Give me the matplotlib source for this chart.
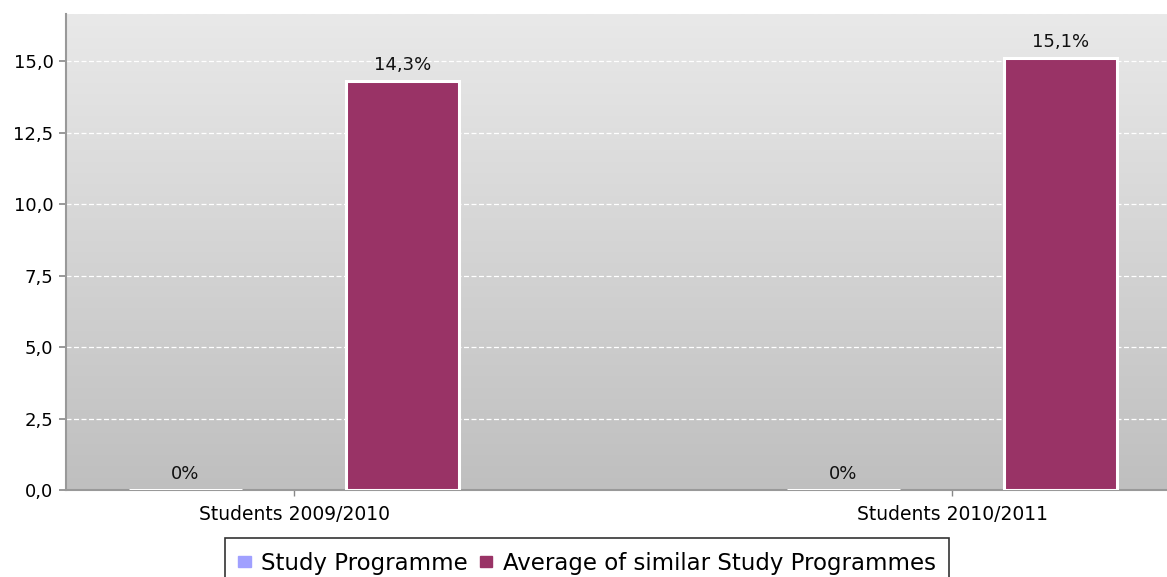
import matplotlib
matplotlib.use("Agg")
import matplotlib.pyplot as plt
import numpy as np

# Data
categories = ["Students 2009/2010", "Students 2010/2011"]
series_names = ["Study Programme", "Average of similar Study Programmes"]
study_programme = [0.0, 0.0]
average_similar = [14.3, 15.1]
series_colors = ["#a0a0ff", "#993366"]
y_ticks = [0.0, 2.5, 5.0, 7.5, 10.0, 12.5, 15.0]


def pct_label(v):
    if v == 0:
        return "0%"
    return f"{v:.1f}%".replace(".", ",")


plt.rcParams["font.family"] = ["DejaVu Sans"]

fig = plt.figure(figsize=(11.67, 5.77), dpi=100)
ax = fig.add_axes([66 / 1167, 87 / 577, 1101 / 1167, 476 / 577])

x = np.arange(len(categories))
xlim = (-0.3465, 1.3267)
ylim = (0, 16.65)

# vertical gradient background
grad = np.linspace(0, 1, 256).reshape(-1, 1)
ax.imshow(grad, extent=[xlim[0], xlim[1], ylim[0], ylim[1]], aspect="auto",
          cmap=matplotlib.colors.LinearSegmentedColormap.from_list("bg", ["#bfbfbf", "#e9e9e9"]),
          origin="lower", zorder=0)

for t in y_ticks:
    ax.axhline(t, color="white", lw=0.9, ls=(0, (4, 2)), zorder=1)

offset = 0.165
width = 0.172
bars1 = ax.bar(x - offset, study_programme, width, color=series_colors[0],
               edgecolor="white", linewidth=2.2, zorder=3)
bars2 = ax.bar(x + offset, average_similar, width, color=series_colors[1],
               edgecolor="white", linewidth=2.2, zorder=3)

for bars, vals in ((bars1, study_programme), (bars2, average_similar)):
    for b, v in zip(bars, vals):
        ax.text(b.get_x() + b.get_width() / 2, v + 0.25, pct_label(v),
                ha="center", va="bottom", fontsize=13, color="#111111", zorder=4)

ax.set_xlim(*xlim)
ax.set_ylim(*ylim)
ax.set_xticks(x)
ax.set_xticklabels(categories, fontsize=13.5)
ax.set_yticks(y_ticks)
ax.set_yticklabels([f"{t:.1f}".replace(".", ",") for t in y_ticks], fontsize=13)

for side in ("top", "right"):
    ax.spines[side].set_visible(False)
for side in ("left", "bottom"):
    ax.spines[side].set_color("#999999")
    ax.spines[side].set_linewidth(1.5)
ax.tick_params(axis="y", color="#888888", length=5, width=1.2, pad=4)
ax.tick_params(axis="x", color="#888888", length=4, width=1, pad=7)

handles = [plt.Rectangle((0, 0), 1, 1, color=c) for c in series_colors]
leg = fig.legend(handles, series_names, loc="upper center",
                 bbox_to_anchor=(587 / 1167, 1 - 538 / 577), ncol=2,
                 fontsize=16.5, frameon=True, fancybox=False, handlelength=0.55,
                 handleheight=0.4, handletextpad=0.45, columnspacing=0.5,
                 borderpad=0.6, borderaxespad=0)
leg.get_frame().set_edgecolor("black")
leg.get_frame().set_linewidth(1.2)

fig.savefig("out.png", dpi=100)
